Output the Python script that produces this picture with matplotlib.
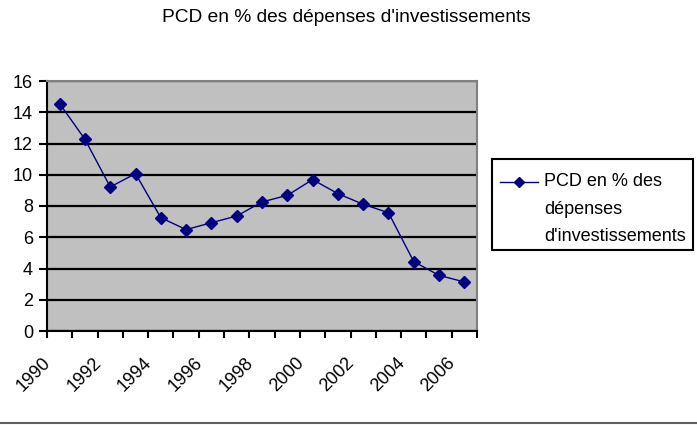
import numpy as np
import matplotlib
matplotlib.use("Agg")
import matplotlib.pyplot as plt
from matplotlib.lines import Line2D
from matplotlib.patches import Rectangle
from matplotlib.transforms import ScaledTranslation

plt.rcParams['font.family'] = ['Liberation Sans', 'DejaVu Sans']

years = list(range(1990, 2007))
values = [14.55, 12.27, 9.22, 10.07, 7.25, 6.49, 6.93, 7.36, 8.26, 8.68,
          9.69, 8.79, 8.11, 7.57, 4.44, 3.56, 3.14]
tick_years = [1990, 1992, 1994, 1996, 1998, 2000, 2002, 2004, 2006]
title = "PCD en % des dépenses d'investissements"
legend_lines = ["PCD en % des", "dépenses", "d'investissements"]

W, H = 697, 425
fig = plt.figure(figsize=(W / 100, H / 100), dpi=100)
ax = fig.add_axes([47 / W, (H - 331) / H, (477 - 47) / W, (331 - 81) / H])
ax.set_facecolor('#C0C0C0')

xs = np.arange(len(years)) + 0.5
line, = ax.plot(xs, values, color='#000080', lw=1.0, marker='D', ms=6,
                mfc='#000080', mec='#000080', zorder=3)

ax.set_xlim(0, len(years))
ax.set_ylim(0, 16)
ax.set_yticks(np.arange(0, 17, 2))
ax.yaxis.grid(True, color='black', lw=1.6)
ax.set_axisbelow(True)

ax.set_xticks(np.arange(len(years) + 1), minor=True)
ax.set_xticks([years.index(y) + 0.5 for y in tick_years])
ax.set_xticklabels([str(y) for y in tick_years], rotation=45, ha='right',
                   va='top', rotation_mode='anchor', fontsize=13)
ax.tick_params(axis='x', which='major', length=0, pad=16.8)
ax.tick_params(axis='x', which='minor', length=5, width=1.5, color='black', direction='out')
ax.tick_params(axis='y', length=6, width=1.5, labelsize=13, pad=4)
offset = ScaledTranslation(-17.5 / 100, 0, fig.dpi_scale_trans)
for lab in ax.get_xticklabels():
    lab.set_transform(lab.get_transform() + offset)

for s in ['left', 'bottom']:
    ax.spines[s].set_color('black')
    ax.spines[s].set_linewidth(1.5)
for s in ['top', 'right']:
    ax.spines[s].set_color('#808080')
    ax.spines[s].set_linewidth(1.5)

fig.text(346 / W, 1 - 17 / H, title, ha='center', va='center', fontsize=13.75)

# legend (drawn manually to match the reference layout)
fig.add_artist(Rectangle((492 / W, 1 - 250 / H), (693 - 492) / W, (250 - 159) / H,
                         transform=fig.transFigure, fill=False, edgecolor='black', lw=1.5))
fig.add_artist(Line2D([500 / W, 538 / W], [1 - 182 / H, 1 - 182 / H],
                      transform=fig.transFigure, color=line.get_color(), lw=1.0))
fig.add_artist(Line2D([519 / W], [1 - 182 / H], transform=fig.transFigure,
                      color=line.get_color(), marker='D', ms=5, lw=0))
for txt, yb in zip(legend_lines, [186, 213.5, 241]):
    fig.text(544 / W, 1 - yb / H, txt, ha='left', va='baseline', fontsize=13)

fig.add_artist(Line2D([0, 1], [2 / H, 2 / H], transform=fig.transFigure,
                      color='#606060', lw=1.5))

fig.savefig('out.png', dpi=100)
